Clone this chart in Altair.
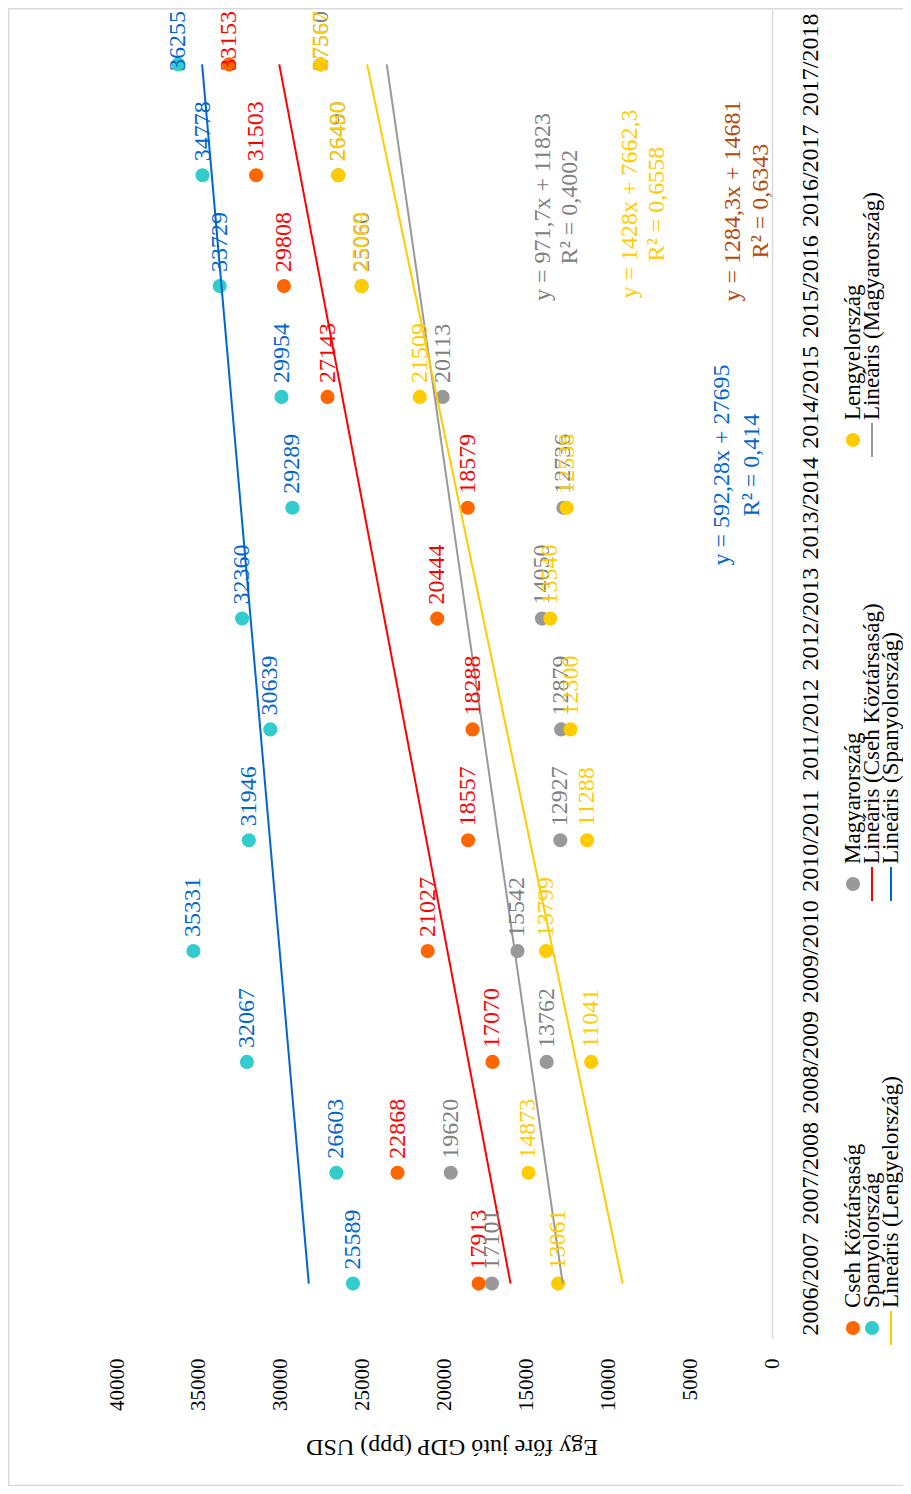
import json
import altair as alt
import pandas as pd

# ---------------- data ----------------
years = ["2006/2007", "2007/2008", "2008/2009", "2009/2010", "2010/2011", "2011/2012",
         "2012/2013", "2013/2014", "2014/2015", "2015/2016", "2016/2017", "2017/2018"]
countries = ["Cseh Köztársaság", "Spanyolország", "Magyarország", "Lengyelország"]
cseh = [17913, 22868, 17070, 21027, 18557, 18288, 20444, 18579, 27143, 29808, 31503, 33153]
spanyol = [25589, 26603, 32067, 35331, 31946, 30639, 32360, 29289, 29954, 33729, 34778, 36255]
magyar = [17101, 19620, 13762, 15542, 12927, 12879, 14050, 12736, 20113, 25060, 26490, 27560]
lengyel = [13061, 14873, 11041, 13799, 11288, 12300, 13540, 12538, 21509, 25069, 26480, 27567]
value_ticks = [0, 5000, 10000, 15000, 20000, 25000, 30000, 35000, 40000]

eq_texts = ["y = 971,7x + 11823", "y = 1428x + 7662,3", "y = 1284,3x + 14681", "y = 592,28x + 27695"]
r2_texts = ["R² = 0,4002", "R² = 0,6558", "R² = 0,6343", "R² = 0,414"]

legend_names = ["Cseh Köztársaság", "Spanyolország", "Lineáris (Lengyelország)",
                "Magyarország", "Lineáris (Cseh Köztársaság)", "Lineáris (Spanyolország)",
                "Lengyelország", "Lineáris (Magyarország)"]
legend_series = ["Cseh Köztársaság", "Spanyolország", "Lengyelország",
                 "Magyarország", "Cseh Köztársaság", "Spanyolország",
                 "Lengyelország", "Magyarország"]
legend_kinds = ["dot", "dot", "line", "dot", "line", "line", "dot", "line"]

# ---------------- styles ----------------
FONT = "Liberation Serif"
point_colors = ["#FF6600", "#33CCCC", "#999999", "#FFCC00"]
label_colors = ["#FF0000", "#0066CC", "#808080", "#FFCC00"]
trend_colors = ["#FF0000", "#0066CC", "#999999", "#FFCC00"]
eq_colors = ["#808080", "#FFCC00", "#B5470B", "#0066CC"]
# annotation placement (plot coordinates): eq line x, r2 line x, center y
eq_pos = [(426, 453, 198), (513, 540, 195), (616, 644, 192), (605, 635, 456)]

W, H = 655, 1330

rows = []
for c, vals in zip(countries, [cseh, spanyol, magyar, lengyel]):
    for i, v in enumerate(vals):
        rows.append({"country": c, "idx": i + 1, "year": years[i], "value": v, "label": str(v)})
df = pd.DataFrame(rows)

pc = dict(zip(countries, point_colors))
tc = dict(zip(countries, trend_colors))
ldf = pd.DataFrame({
    "i": list(range(len(legend_names))),
    "name": legend_names,
    "kind": legend_kinds,
    "color": [pc[s] if k == "dot" else tc[s] for s, k in zip(legend_series, legend_kinds)],
})

xscale = alt.Scale(domain=[0, 40000], reverse=True, nice=False, zero=False)
yscale = alt.Scale(domain=[0.5, 12.5], nice=False, zero=False)

x_axis = alt.Axis(values=value_ticks, format="d", labelAngle=270, labelAlign="right",
                  labelBaseline="middle", labelPadding=19, labelFont=FONT, labelFontSize=21,
                  labelColor="#000000", domain=False, ticks=False, grid=False, title=None,
                  labelFlush=False, labelOverlap=False)
y_axis = alt.Axis(orient="right", values=list(range(1, len(years) + 1)),
                  labelExpr=json.dumps(years) + "[datum.value - 1]",
                  labelAngle=270, labelAlign="center", labelBaseline="middle",
                  labelPadding=38, labelFont=FONT, labelFontSize=24, labelColor="#000000",
                  domain=True, domainColor="#d9d9d9", domainWidth=1.5, ticks=False,
                  tickSize=0, grid=False, title=None, labelFlush=False, labelOverlap=False)

X = alt.X("value:Q", scale=xscale, axis=x_axis)
Y = alt.Y("idx:Q", scale=yscale, axis=y_axis)

base = alt.Chart(df)

points = base.mark_circle(size=200, opacity=1).encode(
    x=X, y=Y,
    color=alt.Color("country:N", scale=alt.Scale(domain=countries, range=point_colors), legend=None),
)

trend = base.transform_regression("idx", "value", groupby=["country"]).mark_line(strokeWidth=2).encode(
    x=X, y=Y,
    color=alt.Color("country:N", scale=alt.Scale(domain=countries, range=trend_colors), legend=None),
)

labels = base.transform_filter("datum.idx < 12").mark_text(
    angle=270, align="left", baseline="middle", dx=14, font=FONT, fontSize=24
).encode(
    x=X, y=Y, text="label:N",
    color=alt.Color("country:N", scale=alt.Scale(domain=countries, range=label_colors), legend=None),
)

labels_top = base.transform_filter("datum.idx == 12").mark_text(
    angle=270, align="right", baseline="middle", font=FONT, fontSize=24
).encode(
    x=X, y=alt.value(2), text="label:N",
    color=alt.Color("country:N", scale=alt.Scale(domain=countries, range=label_colors), legend=None),
)

# ---------------- annotations ----------------
one = pd.DataFrame({"a": [0]})
ann = []
for t, r, col, (ex, rx, cy) in zip(eq_texts, r2_texts, eq_colors, eq_pos):
    ann.append(alt.Chart(one).mark_text(angle=270, align="center", baseline="middle", font=FONT,
                                        fontSize=24, color=col).encode(
        x=alt.value(ex), y=alt.value(cy), text=alt.value(t)))
    ann.append(alt.Chart(one).mark_text(angle=270, align="center", baseline="middle", font=FONT,
                                        fontSize=24, color=col).encode(
        x=alt.value(rx), y=alt.value(cy), text=alt.value(r)))

title = alt.Chart(one).mark_text(angle=180, align="center", baseline="middle", font=FONT,
                                 fontSize=24, color="#000000").encode(
    x=alt.value(335), y=alt.value(1438), text=alt.value("Egy főre jutó GDP (ppp) USD"))

# ---------------- legend ----------------
leg = alt.Chart(ldf).transform_calculate(
    px="736 + 19 * (datum.i % 3)",
    py="1319 - 444 * floor(datum.i / 3)",
).transform_calculate(
    ty="datum.py - 20", ly1="datum.py - 17", ly2="datum.py + 17"
)
leg_dots = leg.transform_filter("datum.kind == 'dot'").mark_circle(size=200, opacity=1).encode(
    x=alt.X("px:Q", scale=None, axis=None), y=alt.Y("py:Q", scale=None, axis=None),
    color=alt.Color("color:N", scale=None, legend=None))
leg_lines = leg.transform_filter("datum.kind == 'line'").mark_rule(strokeWidth=2).encode(
    x=alt.X("px:Q", scale=None, axis=None), y=alt.Y("ly1:Q", scale=None, axis=None),
    y2=alt.Y2("ly2:Q"),
    color=alt.Color("color:N", scale=None, legend=None))
leg_text = leg.mark_text(angle=270, align="left", baseline="middle", font=FONT, fontSize=23,
                         color="#000000").encode(
    x=alt.X("px:Q", scale=None, axis=None), y=alt.Y("ty:Q", scale=None, axis=None),
    text="name:N")

# ---------------- frame ----------------
frame_left = alt.Chart(one).mark_rule(color="#d9d9d9", strokeWidth=1.5).encode(
    x=alt.value(-108.3), y=alt.value(-0.5), y2=alt.value(1477))
frame_top = alt.Chart(one).mark_rule(color="#d9d9d9", strokeWidth=1.5).encode(
    x=alt.value(-109), x2=alt.value(786), y=alt.value(-0.3))
frame_bottom = alt.Chart(one).mark_rule(color="#d9d9d9", strokeWidth=1.5).encode(
    x=alt.value(-109), x2=alt.value(786), y=alt.value(1476.5))

chart = alt.layer(
    frame_left, frame_top, frame_bottom,
    points, trend, labels, labels_top, *ann, title, leg_dots, leg_lines, leg_text
).resolve_scale(color="independent").properties(
    width=W, height=H,
    padding={"left": 109, "top": 1, "right": 131, "bottom": 147},
    autosize=alt.AutoSizeParams(type="none"),
    background="white",
).configure_view(stroke="transparent", strokeWidth=0)

chart.save("out.html", embed_options={"renderer": "svg", "actions": False})
